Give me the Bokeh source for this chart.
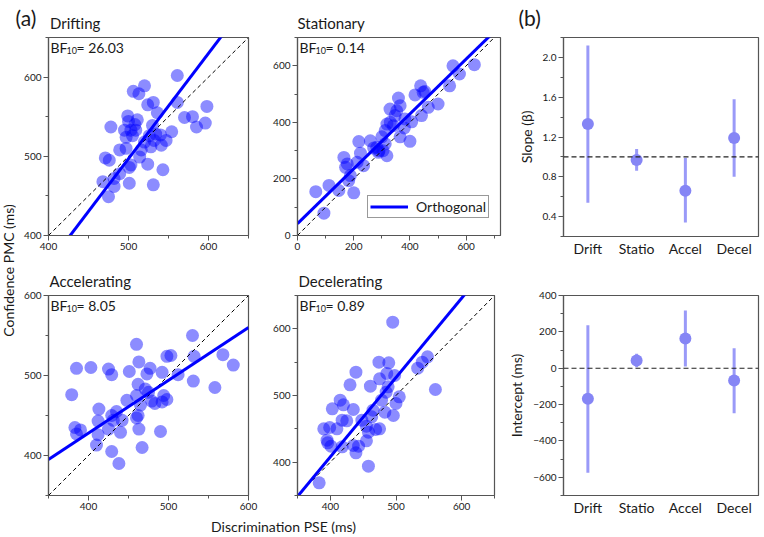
import math
from bokeh.plotting import figure
from bokeh.layouts import row, column
from bokeh.models import Label, Span, SingleIntervalTicker, FixedTicker, Range1d, PrintfTickFormatter
from bokeh.embed import file_html
from bokeh.resources import INLINE

# ---------------- data ----------------
titles = ["Drifting", "Stationary", "Accelerating", "Decelerating"]
short_names = ["Drift", "Statio", "Accel", "Decel"]
bf_values = ["26.03", "0.14", "8.05", "0.89"]

slope = [1.33, 0.97, 0.66, 1.19]
slope_lo = [0.54, 0.86, 0.34, 0.80]
slope_hi = [2.12, 1.08, 0.99, 1.58]

intercept = [-168, 42, 164, -68]
intercept_lo = [-575, 5, 10, -247]
intercept_hi = [236, 80, 318, 110]

drift_x = [561, 520, 506, 513, 531, 524, 561, 598, 536, 499, 570, 580, 596, 585, 478, 511, 554, 530,
           534, 526, 547, 541, 532, 520, 516, 514, 489, 497, 471, 476, 524, 503, 501, 543, 489, 482,
           468, 501, 531, 482, 475, 495, 503, 505, 509, 497, 500, 508, 540, 528]
drift_y = [602, 589, 582, 579, 568, 565, 568, 563, 555, 551, 549, 550, 542, 537, 537, 546, 531, 539,
           528, 526, 520, 514, 520, 518, 508, 499, 508, 510, 498, 495, 490, 489, 486, 483, 478, 472,
           468, 466, 464, 462, 449, 533, 533, 526, 533, 524, 544, 540, 527, 512]

stat_x = [553, 629, 576, 541, 438, 447, 418, 359, 500, 465, 365, 329, 441, 406, 382, 347, 318, 341,
          365, 400, 300, 312, 259, 218, 271, 224, 288, 318, 304, 165, 177, 171, 235, 212, 188, 182,
          112, 65, 147, 200, 94, 312, 282, 353, 453, 330, 380, 290]
stat_y = [600, 604, 571, 529, 529, 506, 497, 486, 465, 453, 459, 447, 424, 402, 412, 424, 394, 388,
          349, 333, 349, 371, 335, 332, 309, 291, 294, 282, 300, 276, 253, 241, 247, 259, 212, 194,
          177, 155, 159, 151, 79, 324, 312, 441, 509, 400, 380, 300]

accel_x = [530, 460, 568, 498, 503, 532, 581, 385, 403, 425, 429, 451, 463, 477, 473, 492, 512, 531,
           558, 379, 462, 471, 475, 460, 448, 479, 483, 494, 498, 492, 465, 413, 435, 429, 412, 442,
           462, 460, 383, 390, 385, 425, 440, 463, 490, 412, 410, 467, 429, 438, 431]
accel_y = [550, 539, 526, 524, 525, 524, 513, 509, 510, 508, 501, 505, 517, 509, 502, 504, 501, 493,
           485, 476, 489, 483, 479, 475, 469, 468, 465, 475, 470, 467, 463, 458, 455, 450, 443, 444,
           450, 447, 435, 432, 427, 433, 429, 433, 430, 426, 413, 410, 405, 390, 444]

decel_x = [495, 474, 489, 548, 540, 533, 439, 486, 498, 430, 475, 461, 488, 560, 485, 505, 478, 415,
           500, 403, 435, 465, 483, 496, 420, 418, 425, 448, 455, 390, 399, 410, 475, 469, 458, 395,
           396, 401, 435, 443, 455, 439, 418, 458, 383, 463]
decel_y = [610, 550, 549, 558, 550, 541, 535, 533, 530, 516, 525, 514, 513, 509, 505, 498, 493, 493,
           488, 480, 479, 478, 475, 470, 486, 463, 462, 463, 454, 450, 452, 450, 450, 449, 445, 433,
           429, 424, 425, 424, 432, 414, 423, 394, 369, 468]

panel_x = [drift_x, stat_x, accel_x, decel_x]
panel_y = [drift_y, stat_y, accel_y, decel_y]

# axis limits / ticks (layout settings)
x_limits = [(400, 650), (0, 722), (350, 600), (350, 650)]
y_limits = [(400, 650), (0, 700), (350, 600), (350, 650)]
tick_step = [100, 200, 100, 100]

FONT = "Lato"
FRAME = "#555555"
TXT = "#1a1a1a"


def style_axes(p, label_size="10px"):
    for ax in (p.xaxis, p.yaxis):
        ax.axis_line_color = FRAME
        ax.axis_line_width = 1.2
        ax.major_tick_line_color = FRAME
        ax.minor_tick_line_color = FRAME
        ax.major_tick_out = 5
        ax.major_tick_in = 0
        ax.minor_tick_out = 3
        ax.minor_tick_in = 0
        ax.major_label_text_font = FONT
        ax.major_label_text_font_size = label_size
        ax.major_label_text_color = TXT
        ax.major_label_standoff = 2
        ax.axis_label_text_font = FONT
        ax.axis_label_text_font_size = "14px"
        ax.axis_label_text_font_style = "normal"
        ax.axis_label_text_color = TXT
        ax.axis_label_standoff = 5
    p.xgrid.visible = False
    p.ygrid.visible = False
    p.outline_line_color = FRAME
    p.outline_line_width = 1.2
    p.background_fill_color = "white"
    p.border_fill_color = "white"


def text_strip(width, height):
    return figure(width=width, height=height, x_range=Range1d(0, width), y_range=Range1d(0, height),
                  x_axis_type=None, y_axis_type=None, output_backend="svg", toolbar_location=None,
                  min_border=0, outline_line_color=None)


def scatter_panel(i, width, height, borders, with_title, legend=False):
    xr = x_limits[i]
    yr = y_limits[i]
    L, R, T, B = borders
    kw = dict(title=titles[i]) if with_title else {}
    p = figure(width=width, height=height, x_range=Range1d(*xr), y_range=Range1d(*yr),
               output_backend="svg", toolbar_location=None,
               min_border_left=L, min_border_right=R, min_border_top=T, min_border_bottom=B, **kw)
    if with_title:
        p.title.text_font = FONT
        p.title.text_font_size = "15px"
        p.title.text_font_style = "normal"
        p.title.text_color = TXT
        p.title.align = "left"
        p.title.offset = 1
        p.title.standoff = 12
    style_axes(p)
    p.xaxis.ticker = SingleIntervalTicker(interval=tick_step[i], num_minor_ticks=2)
    p.yaxis.ticker = SingleIntervalTicker(interval=tick_step[i], num_minor_ticks=2)

    p.scatter(panel_x[i], panel_y[i], size=13, fill_color="#0000ff", fill_alpha=0.45, line_color=None)
    # identity line
    p.line([xr[0], xr[1]], [xr[0], xr[1]], line_color="black", line_width=1, line_dash="4 3")
    # orthogonal regression line
    lx = [xr[0], xr[1]]
    ly = [intercept[i] + slope[i] * v for v in lx]
    if legend:
        p.line(lx, ly, line_color="#0000ff", line_width=3, legend_label="Orthogonal")
        lg = p.legend[0]
        lg.location = (70, 17)
        lg.label_text_font = FONT
        lg.label_text_font_size = "14px"
        lg.label_text_color = TXT
        lg.border_line_color = "#333333"
        lg.border_line_width = 1
        lg.padding = 2
        lg.margin = 0
        lg.spacing = 0
        lg.glyph_width = 38
        lg.glyph_height = 17
        lg.label_height = 17
        lg.label_standoff = 8
        lg.background_fill_alpha = 1
    else:
        p.line(lx, ly, line_color="#0000ff", line_width=3)

    # BF10 annotation
    p.add_layout(Label(x=xr[0], y=yr[1], x_offset=2, y_offset=-10, text="BF",
                       text_font=FONT, text_font_size="14px", text_color=TXT,
                       text_baseline="alphabetic"))
    p.add_layout(Label(x=xr[0], y=yr[1], x_offset=18, y_offset=-13, text="10",
                       text_font=FONT, text_font_size="9px", text_color=TXT,
                       text_baseline="alphabetic"))
    p.add_layout(Label(x=xr[0], y=yr[1], x_offset=28, y_offset=-10, text="= " + bf_values[i],
                       text_font=FONT, text_font_size="14px", text_color=TXT,
                       text_baseline="alphabetic"))
    return p


p_drift = scatter_panel(0, 254, 229, (32, 22, 4, 25), False)
p_stat = scatter_panel(1, 235, 229, (25, 5, 4, 27), False, legend=True)
p_accel = scatter_panel(2, 254, 253, (32, 22, 33, 20), True)
p_decel = scatter_panel(3, 235, 253, (25, 11, 33, 20), True)

# ---------------- panel (b) ----------------
positions = list(range(1, len(short_names) + 1))


def summary_panel(height, borders, yr, step, values, lo, hi, ref, ylabel, fmt):
    L, R, T, B = borders
    p = figure(width=259, height=height, x_range=Range1d(0.5, len(short_names) + 0.5),
               y_range=Range1d(*yr), output_backend="svg", toolbar_location=None,
               min_border_left=L, min_border_right=R, min_border_top=T, min_border_bottom=B)
    style_axes(p)
    p.yaxis.ticker = SingleIntervalTicker(interval=step, num_minor_ticks=2)
    if fmt:
        p.yaxis.formatter = PrintfTickFormatter(format=fmt)
    p.yaxis.axis_label = ylabel
    p.xaxis.ticker = FixedTicker(ticks=positions, minor_ticks=[])
    p.xaxis.major_label_overrides = {k: n for k, n in zip(positions, short_names)}
    p.xaxis.major_label_text_font_size = "14px"
    p.xaxis.major_tick_out = 0
    p.xaxis.major_label_standoff = 3
    p.add_layout(Span(location=ref, dimension="width", line_color="#222222",
                      line_width=1.2, line_dash="5 3"))
    p.segment(x0=positions, y0=lo, x1=positions, y1=hi, line_color="#9a9af8", line_width=3)
    p.scatter(positions, values, size=12, fill_color="#8585f5", line_color=None)
    return p


p_slope = summary_panel(229, (57, 6, 4, 26), (0.2, 2.2), 0.4, slope, slope_lo, slope_hi, 1.0,
                        "Slope (\u03b2)", "%.1f")
p_int = summary_panel(275, (57, 6, 33, 42), (-700, 400), 200, intercept, intercept_lo, intercept_hi, 0,
                      "Intercept (ms)", None)

# ---------------- header with panel letters and top titles ----------------
header = text_strip(764, 33)
header.add_layout(Label(x=15, y=16, text="(a)", text_font=FONT, text_font_size="21px",
                        text_color=TXT, text_baseline="alphabetic"))
header.add_layout(Label(x=49.5, y=11, text=titles[0], text_font=FONT, text_font_size="15px",
                        text_color=TXT, text_baseline="alphabetic"))
header.add_layout(Label(x=297, y=11, text=titles[1], text_font=FONT, text_font_size="15px",
                        text_color=TXT, text_baseline="alphabetic"))
header.add_layout(Label(x=518, y=16, text="(b)", text_font=FONT, text_font_size="21px",
                        text_color=TXT, text_baseline="alphabetic"))

# ---------------- shared axis labels ----------------
ystrip = text_strip(16, 504)
ystrip.add_layout(Label(x=8, y=267, text="Confidence PMC (ms)", angle=math.pi / 2,
                        text_align="center", text_baseline="middle",
                        text_font=FONT, text_font_size="14px", text_color=TXT))

xstrip = text_strip(489, 22)
xstrip.add_layout(Label(x=267, y=11, text="Discrimination PSE (ms)",
                        text_align="center", text_baseline="alphabetic",
                        text_font=FONT, text_font_size="14px", text_color=TXT))

middle = column(row(p_drift, p_stat, spacing=0), row(p_accel, p_decel, spacing=0), xstrip, spacing=0)
right = column(p_slope, p_int, spacing=0)
layout = column(header, row(ystrip, middle, right, spacing=0), spacing=0)

open("out.html", "w").write(file_html(layout, INLINE))
